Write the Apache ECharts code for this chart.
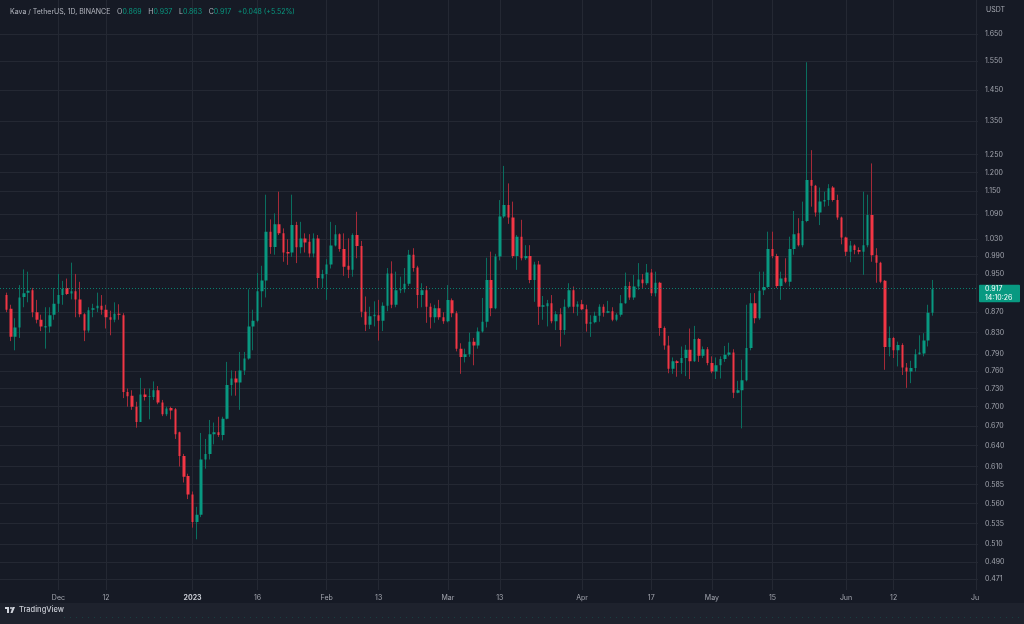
<!DOCTYPE html>
<html><head><meta charset="utf-8">
<script src="https://cdn.jsdelivr.net/npm/echarts@6/dist/echarts.min.js"></script>
<style>html,body{margin:0;padding:0;background:#161a25;}#c{width:1024px;height:624px;}</style>
</head><body><div id="c"></div><script>
const symbolName = 'Kava / TetherUS, 1D, BINANCE';
const countdown = '14:10:26';
const firstDay = '2022-11-18';
const dayCount = 226;
const priceTicks = [1.650,1.550,1.450,1.350,1.250,1.200,1.150,1.090,1.030,0.990,0.950,0.870,0.830,0.790,0.760,0.730,0.700,0.670,0.640,0.610,0.585,0.560,0.535,0.510,0.490,0.471];
const tickDates = ['2022-12-01','2022-12-12','2023-01-01','2023-01-16','2023-02-01','2023-02-13','2023-03-01','2023-03-13','2023-04-01','2023-04-17','2023-05-01','2023-05-15','2023-06-01','2023-06-12','2023-07-01'];
const tickLabels = ['Dec','12','2023','16','Feb','13','Mar','13','Apr','17','May','15','Jun','12','Jul'];
// daily candles from 2022-11-19: [open, close, low, high]
const candles = [
[0.905,0.875,0.870,0.910],[0.877,0.822,0.814,0.885],[0.822,0.840,0.797,0.858],[0.840,0.900,0.820,0.926],
[0.901,0.909,0.880,0.960],[0.910,0.914,0.890,0.955],[0.915,0.870,0.860,0.920],[0.870,0.855,0.848,0.895],
[0.855,0.842,0.833,0.865],[0.840,0.843,0.800,0.880],[0.842,0.864,0.830,0.880],[0.865,0.887,0.855,0.920],
[0.887,0.905,0.870,0.950],[0.905,0.918,0.885,0.935],[0.920,0.907,0.905,0.940],[0.908,0.913,0.896,0.975],
[0.913,0.896,0.860,0.950],[0.896,0.866,0.860,0.933],[0.866,0.834,0.814,0.868],[0.834,0.874,0.830,0.880],
[0.875,0.878,0.860,0.887],[0.878,0.883,0.870,0.910],[0.883,0.875,0.865,0.905],[0.875,0.860,0.838,0.885],
[0.860,0.855,0.825,0.873],[0.855,0.867,0.850,0.890],[0.867,0.865,0.855,0.886],[0.864,0.724,0.714,0.868],
[0.724,0.717,0.700,0.730],[0.718,0.700,0.695,0.727],[0.700,0.676,0.667,0.708],[0.676,0.720,0.676,0.748],
[0.720,0.716,0.710,0.730],[0.716,0.717,0.680,0.730],[0.716,0.727,0.711,0.742],[0.727,0.707,0.704,0.734],
[0.707,0.688,0.685,0.711],[0.688,0.697,0.685,0.700],[0.698,0.694,0.680,0.700],[0.696,0.657,0.650,0.698],
[0.660,0.625,0.610,0.661],[0.625,0.596,0.588,0.628],[0.597,0.572,0.566,0.600],[0.572,0.537,0.530,0.576],
[0.537,0.546,0.516,0.556],[0.546,0.620,0.543,0.659],[0.620,0.628,0.607,0.650],[0.628,0.657,0.620,0.679],
[0.657,0.660,0.642,0.675],[0.660,0.656,0.653,0.684],[0.656,0.681,0.648,0.684],[0.681,0.736,0.680,0.776],
[0.736,0.747,0.718,0.761],[0.747,0.740,0.718,0.760],[0.740,0.761,0.695,0.794],[0.761,0.782,0.753,0.794],
[0.782,0.842,0.780,0.917],[0.842,0.853,0.797,0.875],[0.853,0.913,0.850,0.952],[0.913,0.936,0.880,0.968],
[0.936,1.047,0.900,1.140],[1.047,1.011,0.995,1.077],[1.011,1.065,0.993,1.092],[1.065,1.043,1.039,1.148],
[1.043,0.998,0.977,1.055],[0.999,0.996,0.970,1.029],[0.998,1.063,0.988,1.140],[1.063,1.010,0.974,1.071],
[1.010,1.031,0.996,1.071],[1.031,1.021,0.998,1.043],[1.023,0.996,0.987,1.041],[0.996,1.031,0.987,1.043],
[1.031,0.941,0.919,1.039],[0.940,0.950,0.920,0.959],[0.950,0.971,0.895,0.983],[0.971,1.014,0.962,1.071],
[1.014,1.041,1.012,1.063],[1.041,1.006,1.000,1.043],[1.006,0.966,0.946,1.043],[0.968,0.959,0.941,1.031],
[0.959,1.039,0.944,1.043],[1.039,1.013,0.985,1.096],[1.013,0.871,0.860,1.025],[0.871,0.845,0.833,0.902],
[0.845,0.862,0.837,0.881],[0.862,0.865,0.842,0.892],[0.864,0.853,0.815,0.895],[0.853,0.883,0.833,0.890],
[0.883,0.951,0.872,0.963],[0.951,0.885,0.878,0.978],[0.885,0.915,0.880,0.955],[0.915,0.917,0.909,0.944],
[0.917,0.929,0.910,0.963],[0.929,0.993,0.924,1.004],[0.993,0.963,0.955,1.008],[0.964,0.905,0.878,0.968],
[0.905,0.915,0.880,0.930],[0.915,0.881,0.849,0.924],[0.881,0.860,0.838,0.888],[0.860,0.878,0.849,0.885],
[0.878,0.860,0.855,0.895],[0.860,0.852,0.847,0.870],[0.852,0.895,0.850,0.926],[0.894,0.868,0.860,0.898],
[0.868,0.800,0.795,0.872],[0.800,0.785,0.755,0.810],[0.785,0.790,0.775,0.800],[0.790,0.813,0.785,0.830],
[0.813,0.806,0.770,0.820],[0.806,0.832,0.800,0.840],[0.832,0.851,0.830,0.899],[0.851,0.937,0.840,0.986],
[0.937,0.878,0.862,1.000],[0.878,0.989,0.876,0.995],[0.989,1.084,0.980,1.126],[1.084,1.113,1.080,1.218],
[1.113,1.082,1.066,1.170],[1.082,0.990,0.985,1.122],[0.990,1.035,0.959,1.039],[1.035,0.985,0.980,1.076],
[0.985,0.990,0.981,1.015],[0.990,0.937,0.930,1.015],[0.937,0.971,0.891,0.977],[0.971,0.881,0.845,0.979],
[0.881,0.884,0.855,0.903],[0.882,0.888,0.842,0.895],[0.888,0.852,0.848,0.905],[0.852,0.866,0.835,0.872],
[0.866,0.835,0.804,0.878],[0.835,0.881,0.826,0.896],[0.881,0.915,0.878,0.930],[0.915,0.881,0.868,0.923],
[0.881,0.886,0.863,0.892],[0.886,0.876,0.874,0.895],[0.876,0.847,0.832,0.885],[0.847,0.850,0.822,0.864],
[0.850,0.863,0.848,0.871],[0.863,0.881,0.851,0.886],[0.881,0.869,0.861,0.886],[0.869,0.872,0.868,0.893],
[0.872,0.855,0.852,0.880],[0.855,0.865,0.852,0.868],[0.865,0.888,0.861,0.905],[0.888,0.924,0.887,0.953],
[0.924,0.900,0.895,0.933],[0.900,0.923,0.895,0.948],[0.923,0.938,0.916,0.974],[0.938,0.930,0.920,0.950],
[0.930,0.953,0.926,0.972],[0.953,0.909,0.903,0.961],[0.909,0.931,0.902,0.955],[0.931,0.839,0.824,0.933],
[0.839,0.806,0.798,0.842],[0.806,0.764,0.756,0.824],[0.764,0.777,0.755,0.784],[0.777,0.774,0.750,0.779],
[0.774,0.783,0.755,0.804],[0.783,0.798,0.751,0.807],[0.798,0.777,0.746,0.838],[0.777,0.818,0.776,0.843],
[0.818,0.787,0.776,0.820],[0.787,0.799,0.783,0.804],[0.799,0.774,0.770,0.803],[0.774,0.759,0.756,0.786],
[0.759,0.770,0.746,0.784],[0.770,0.781,0.747,0.786],[0.781,0.789,0.776,0.805],[0.789,0.793,0.786,0.811],
[0.793,0.723,0.714,0.799],[0.723,0.727,0.722,0.743],[0.727,0.744,0.666,0.780],[0.744,0.801,0.742,0.885],
[0.801,0.888,0.797,0.909],[0.888,0.858,0.848,0.909],[0.858,0.914,0.855,0.955],[0.915,0.922,0.905,0.955],
[0.922,1.006,0.920,1.047],[1.006,0.990,0.985,1.047],[0.990,0.924,0.920,0.995],[0.924,0.940,0.895,0.955],
[0.942,0.933,0.930,0.985],[0.933,1.006,0.923,1.035],[1.006,1.041,0.993,1.098],[1.043,1.015,1.012,1.080],
[1.015,1.073,1.010,1.122],[1.073,1.179,1.070,1.546],[1.179,1.164,1.109,1.263],[1.164,1.094,1.084,1.166],
[1.094,1.122,1.063,1.159],[1.122,1.126,1.109,1.148],[1.126,1.157,1.111,1.168],[1.159,1.126,1.122,1.163],
[1.126,1.082,1.076,1.140],[1.082,1.033,1.017,1.084],[1.033,1.000,0.990,1.035],[1.000,1.014,0.976,1.025],
[1.014,1.004,0.994,1.017],[1.004,1.000,0.994,1.010],[1.000,1.015,0.948,1.148],[1.015,1.088,1.010,1.140],
[1.088,0.992,0.977,1.225],[0.992,0.975,0.931,1.008],[0.975,0.933,0.930,0.977],[0.935,0.803,0.762,0.937],
[0.803,0.820,0.786,0.842],[0.820,0.797,0.783,0.822],[0.797,0.807,0.768,0.813],[0.807,0.766,0.753,0.810],
[0.766,0.759,0.731,0.774],[0.759,0.765,0.739,0.778],[0.765,0.790,0.759,0.799],[0.790,0.793,0.789,0.825],
[0.791,0.815,0.786,0.829],[0.815,0.869,0.804,0.885],[0.869,0.917,0.863,0.937]
];

const UP = '#089981', DOWN = '#f23645';
const UP_WICK = '#0a6e5f', DOWN_WICK = '#a52a38';
const BG = '#161a25', GRID = '#242833', TXT = '#a3a6af';
const FONT = 'Inter, "Liberation Sans", sans-serif';

const categories = [];
const t0 = Date.parse(firstDay + 'T00:00:00Z');
for (let i = 0; i < dayCount; i++) categories.push(new Date(t0 + i * 86400000).toISOString().slice(0, 10));
const rows = candles.map((c, i) => [categories[i + 1], c[0], c[1], c[2], c[3]]);
const tickMap = {};
tickDates.forEach((d, i) => { tickMap[d] = tickLabels[i]; });
const isTick = (i, v) => tickMap[v] !== undefined;

const last = candles[candles.length - 1];
const prevClose = candles[candles.length - 2][1];
const chg = last[1] - prevClose;
const pct = chg / prevClose * 100;

const chart = echarts.init(document.getElementById('c'), null, { renderer: 'canvas' });
const option = {
  backgroundColor: BG,
  animation: false,
  textStyle: { fontFamily: FONT },
  grid: { left: 0, right: 46, top: 0, bottom: 34 },
  xAxis: {
    type: 'category', data: categories, boundaryGap: true,
    axisLine: { show: false }, axisTick: { show: false, alignWithLabel: true },
    axisLabel: {
      interval: isTick, color: TXT, fontSize: 7, fontFamily: FONT, margin: 4,
      formatter: v => tickMap[v] === '2023' ? '{b|2023}' : (tickMap[v] || ''),
      rich: { b: { fontWeight: 'bold', color: '#c8cbd3', fontSize: 7, fontFamily: FONT } }
    },
    splitLine: { show: true, interval: isTick, alignWithLabel: true, lineStyle: { color: GRID, width: 1 } }
  },
  yAxis: {
    type: 'log', position: 'right', min: 0.4592, max: 1.784, scale: true,
    axisLine: { show: false },
    axisTick: { show: false, customValues: priceTicks },
    axisLabel: { customValues: priceTicks, color: TXT, fontSize: 7, fontFamily: FONT, margin: 7, formatter: v => Number(v).toFixed(3) },
    splitLine: { show: true, lineStyle: { color: GRID, width: 1 } }
  },
  series: [
    {
      type: 'candlestick', name: 'wick', data: rows, encode: { x: 0, y: [1, 2, 3, 4] },
      barWidth: 1, silent: true, z: 2,
      itemStyle: { color: 'transparent', color0: 'transparent', borderColor: UP_WICK, borderColor0: DOWN_WICK, borderWidth: 1 }
    },
    {
      type: 'candlestick', name: 'body', data: rows, encode: { x: 0, y: [1, 2, 3, 4] },
      barWidth: 3, silent: true, z: 3,
      itemStyle: { color: UP, color0: DOWN, borderColor: UP, borderColor0: DOWN, borderWidth: 0 },
      markLine: {
        silent: true, symbol: ['none', 'none'], label: { show: false },
        lineStyle: { color: UP, type: [1, 2], width: 1, opacity: 0.8 },
        data: [{ yAxis: last[1] }]
      }
    }
  ]
};
chart.setOption(option);

const py = chart.convertToPixel({ yAxisIndex: 0 }, last[1]);
const f3 = v => v.toFixed(3);
chart.setOption({
  graphic: [
    { type: 'rect', z: 100, shape: { x: 979, y: 590, width: 45, height: 13 }, style: { fill: BG } },
    { type: 'rect', z: 100, shape: { x: 0, y: 603, width: 1024, height: 21 }, style: { fill: '#1e222d' } },
    { type: 'line', z: 101, shape: { x1: 64, y1: 617.5, x2: 1024, y2: 617.5 }, style: { stroke: 'rgba(8,153,129,0.25)', lineWidth: 1, lineDash: [1, 5] } },
    { type: 'rect', z: 101, shape: { x: 5, y: 607, width: 4, height: 2 }, style: { fill: '#d1d4dc' } },
    { type: 'rect', z: 101, shape: { x: 7, y: 607, width: 2, height: 6 }, style: { fill: '#d1d4dc' } },
    { type: 'circle', z: 101, shape: { cx: 11, cy: 608, r: 1 }, style: { fill: '#d1d4dc' } },
    { type: 'polygon', z: 101, shape: { points: [[12.5, 607], [15, 607], [12.5, 613], [10.5, 613]] }, style: { fill: '#d1d4dc' } },
    { type: 'text', z: 101, x: 19, y: 610, style: { text: 'TradingView', fill: '#c8cbd3', font: '500 7.5px ' + FONT, verticalAlign: 'middle' } },
    { type: 'text', z: 101, x: 986, y: 10, style: { text: 'USDT', fill: TXT, font: '7px ' + FONT, verticalAlign: 'middle' } },
    { type: 'text', z: 101, x: 10, y: 11.5, style: {
        text: '{t|' + symbolName + '}  {g|O}{v|' + f3(last[0]) + '}  {g|H}{v|' + f3(last[3]) + '}  {g|L}{v|' + f3(last[2]) + '}  {g|C}{v|' + f3(last[1]) + '}  {v|' + (chg >= 0 ? '+' : '') + f3(chg) + ' (' + (pct >= 0 ? '+' : '') + pct.toFixed(2) + '%)}',
        verticalAlign: 'middle',
        rich: {
          t: { fill: '#b2b5be', font: '7px ' + FONT },
          g: { fill: '#b2b5be', font: '7px ' + FONT },
          v: { fill: UP, font: '7px ' + FONT }
        }
      } },
    { type: 'rect', z: 102, shape: { x: 979, y: py - 4.5, width: 41, height: 17.5, r: 1 }, style: { fill: UP } },
    { type: 'text', z: 103, x: 985, y: py, style: { text: f3(last[1]), fill: '#ffffff', font: '7px ' + FONT, verticalAlign: 'middle' } },
    { type: 'text', z: 103, x: 985, y: py + 8.5, style: { text: countdown, fill: '#ffffff', font: '7px ' + FONT, verticalAlign: 'middle' } }
  ]
});
</script></body></html>
